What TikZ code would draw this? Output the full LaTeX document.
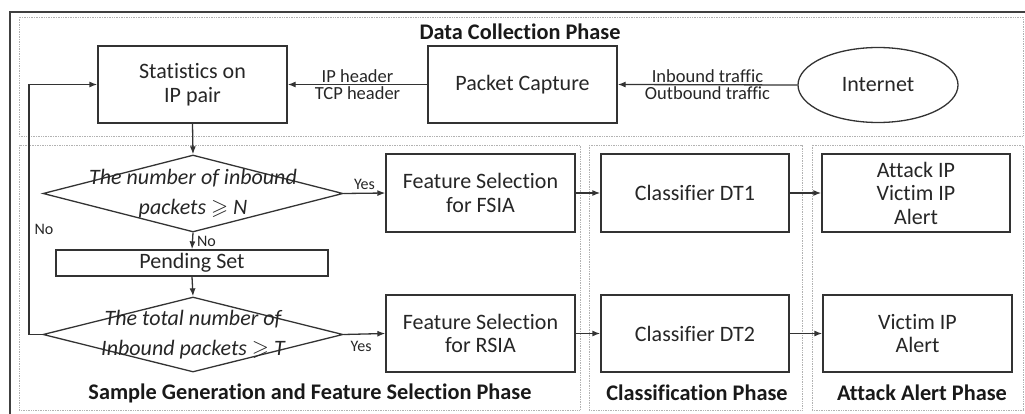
\documentclass[tikz,border=0pt]{standalone}
\usepackage{amssymb}
\usepackage{fontspec}
\setmainfont{Carlito}[Ligatures=NoCommon]
\usetikzlibrary{shapes.geometric,arrows.meta}
\newcommand\fsz[2]{\fontsize{#1}{#2}\selectfont}
\begin{document}
\begin{tikzpicture}[x=1pt,y=-1pt,
  ink/.style={draw=black!80, line width=1.3pt},
  box/.style={ink, rectangle, inner sep=0pt, align=center, text=black!85, font=\fsz{22}{23.5}},
  wbox/.style={box, minimum width=189pt, minimum height=77pt},
  dia/.style={ink, diamond, inner sep=0pt, minimum width=300pt, minimum height=77pt},
  ditext/.style={align=center, inner sep=0pt, text=black!85, font=\fsz{22}{30}\itshape},
  lab/.style={inner sep=0pt, text=black!85, font=\fsz{18.5}{20}},
  yn/.style={inner sep=2pt, text=black!85, font=\fsz{16}{18}},
  title/.style={inner sep=0pt, text=black!90, font=\fsz{22.3}{24}\bfseries},
  panel/.style={draw=gray!60, densely dotted, line width=0.7pt},
  arr/.style={ink, -{Latex[length=8pt,width=6pt]}}
]
\useasboundingbox (0,0) rectangle (1025,414);
% outer frame (cropped)
\draw[line width=2.5pt, black!75] (10,414) -- (10,12) -- (1025,12);
% phase panels
\draw[panel] (19,17) rectangle (1023,136);
\draw[panel] (19,145) rectangle (580,410);
\draw[panel] (589,145) rectangle (802,410);
\draw[panel] (812,145) rectangle (1023,410);

% titles
\node[title] (tdc) at (520,32) {Data Collection Phase};
\node[title] (tsg) at (310,393) {Sample Generation and Feature Selection Phase};
\node[title] (tcl) at (697,393) {Classification Phase};
\node[title] (tal) at (922,393) {Attack Alert Phase};

% nodes
\node[wbox] (stats) at (192.5,84.5) {Statistics on\\IP pair};
\node[wbox] (cap) at (522.5,84.5) {Packet Capture};
\node[ink, ellipse, inner sep=0pt, minimum width=160pt, minimum height=75pt, text=black!85, font=\fsz{22}{24}] (net) at (878,85) {Internet};

\node[dia] (d1) at (193,193.5) {};
\node[ditext] (d1t) at (d1.center) {The number of inbound\\packets~$\geqslant$~N};
\node[wbox, minimum height=78pt] (fsia) at (480.5,193) {Feature Selection\\for FSIA};
\node[wbox, minimum width=188pt, minimum height=78pt] (dt1) at (695,193) {Classifier DT1};
\node[wbox, minimum width=188pt, minimum height=78pt] (atk) at (916,193) {Attack IP\\Victim IP\\Alert};

\node[box, minimum width=272pt, minimum height=26pt] (pend) at (192,263) {Pending Set};

\node[dia, minimum height=75pt] (d2) at (193,334.5) {};
\node[ditext] (d2t) at (d2.center) {The total number of\\Inbound packets~$\geqslant$~T};
\node[wbox] (rsia) at (480.5,333.5) {Feature Selection\\for RSIA};
\node[wbox, minimum width=188pt] (dt2) at (695,333.5) {Classifier DT2};
\node[wbox] (vic) at (917.5,333.5) {Victim IP\\Alert};

\coordinate (loopc) at (29,334.5);

% connectors
\draw[arr] (net.west) -- (cap.east)
  node[midway, above=1.5pt, lab] {Inbound traffic}
  node[midway, below=1.5pt, lab] {Outbound traffic};
\draw[arr] (cap.west) -- (stats.east)
  node[midway, above=1.5pt, lab] {IP header}
  node[midway, below=1.5pt, lab] {TCP header};
\draw[arr] (stats.south) -- (d1.north);
\draw[arr] (d1.east) -- (fsia.west) node[pos=0.5, above, yn, yshift=1pt] {Yes};
\draw[arr] (d1.south) -- (pend.north) node[midway, right, yn, xshift=2pt] {No};
\draw[arr] (pend.south) -- (d2.north);
\draw[arr] (d2.east) -- (rsia.west) node[pos=0.42, below, yn, yshift=-5pt] {Yes};
\draw[arr] (d2.west) -- (loopc) |- (stats.west) node[pos=0.21, right, yn, xshift=3pt] {No};
\draw[arr] (fsia.east) -- (dt1.west);
\draw[arr] (dt1.east) -- (atk.west);
\draw[arr] (rsia.east) -- (dt2.west);
\draw[arr] (dt2.east) -- (vic.west);
\end{tikzpicture}
\end{document}
